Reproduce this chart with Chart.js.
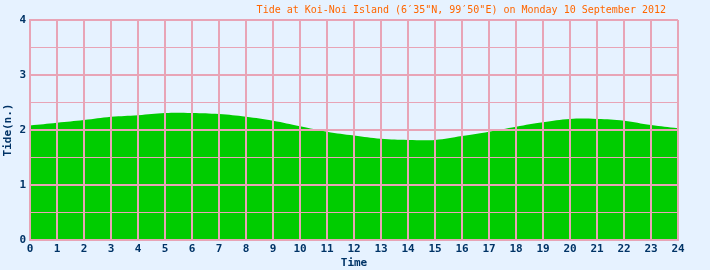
<!DOCTYPE html>
<html>
<head>
<meta charset="utf-8">
<script src="https://cdn.jsdelivr.net/npm/chart.js@4.4.1/dist/chart.umd.min.js"></script>
<style>
  html, body { margin: 0; padding: 0; background: #e6f2ff; }
  #wrap { width: 710px; height: 270px; }
</style>
</head>
<body>
<div id="wrap"><canvas id="tideChart" width="710" height="270"></canvas></div>
<script>
const chartTitle = "Tide at Koi-Noi Island (6\u203235\"N, 99\u203250\"E) on Monday 10 September 2012";
const hours = [0, 1, 2, 3, 4, 5, 6, 7, 8, 9, 10, 11, 12, 13, 14, 15, 16, 17, 18, 19, 20, 21, 22, 23, 24];
const tide = [2.08, 2.13, 2.18, 2.24, 2.27, 2.31, 2.31, 2.29, 2.24, 2.17, 2.07, 1.97, 1.90, 1.84, 1.82, 1.82, 1.89, 1.97, 2.06, 2.14, 2.20, 2.20, 2.17, 2.09, 2.03];
const yTicks = [0, 1, 2, 3, 4];

const pink = "#e8a4b6";
const navy = "#003366";

// title is drawn by hand so it can sit right-aligned above the plot
const titlePlugin = {
    id: "topTitle",
    afterDraw(chart) {
        const ctx = chart.ctx;
        ctx.save();
        ctx.font = "10px 'DejaVu Sans Mono'";
        ctx.fillStyle = "#ff6600";
        ctx.textAlign = "right";
        ctx.textBaseline = "middle";
        ctx.fillText(chartTitle, 666, 10);
        ctx.restore();
    }
};

new Chart(document.getElementById("tideChart"), {
    type: "line",
    data: {
        datasets: [{
            data: hours.map((h, i) => ({ x: h, y: tide[i] })),
            backgroundColor: "#00cc00",
            borderWidth: 0,
            pointRadius: 0,
            fill: "origin",
            tension: 0.4
        }]
    },
    options: {
        responsive: false,
        animation: false,
        layout: { padding: { top: 20, right: 32, left: 0, bottom: 0 } },
        plugins: {
            legend: { display: false },
            tooltip: { enabled: false }
        },
        scales: {
            x: {
                type: "linear",
                min: 0,
                max: 24,
                afterFit(scale) { scale.height = 30; },
                grid: { color: pink, lineWidth: 2, drawTicks: false, z: 1 },
                border: { color: pink, width: 2, z: 1 },
                ticks: {
                    stepSize: 1,
                    padding: 3,
                    color: navy,
                    font: { family: "DejaVu Sans Mono", size: 11, weight: "bold" }
                },
                title: {
                    display: true,
                    text: "Time",
                    color: navy,
                    padding: { top: 0, bottom: 0 },
                    font: { family: "DejaVu Sans Mono", size: 11, weight: "bold" }
                }
            },
            y: {
                min: 0,
                max: 4,
                afterFit(scale) { scale.width = 30; },
                grid: {
                    color: pink,
                    drawTicks: false,
                    z: 1,
                    lineWidth: ctx => (yTicks.includes(ctx.tick.value) ? 2 : 1)
                },
                border: { color: pink, width: 2, z: 1 },
                ticks: {
                    stepSize: 0.5,
                    padding: 4,
                    color: navy,
                    font: { family: "DejaVu Sans Mono", size: 11, weight: "bold" },
                    callback: v => (yTicks.includes(v) ? v : "")
                },
                title: {
                    display: true,
                    text: "Tide(n.)",
                    color: navy,
                    padding: { top: 2, bottom: 0 },
                    font: { family: "DejaVu Sans Mono", size: 11, weight: "bold" }
                }
            }
        }
    },
    plugins: [titlePlugin]
});
</script>
</body>
</html>
